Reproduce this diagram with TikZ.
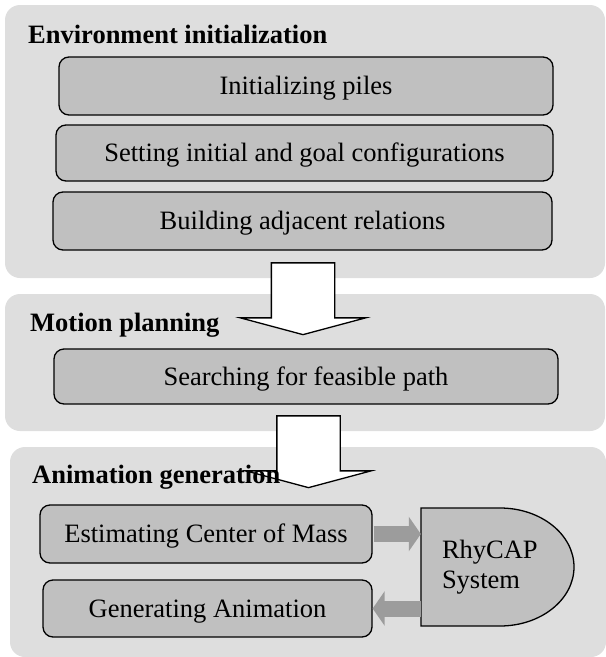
\documentclass[tikz,border=0pt]{standalone}
\usepackage{fontspec}
\setmainfont{Liberation Serif}
\usetikzlibrary{positioning, arrows.meta, shapes.arrows}

\definecolor{panelgray}{RGB}{222,222,222}
\definecolor{boxgray}{RGB}{192,192,192}
\definecolor{flowgray}{RGB}{156,156,156}

\tikzset{
  panel/.style={fill=panelgray, rounded corners=15pt, inner sep=0pt},
  phase/.style={font=\bfseries\fontsize{26.5pt}{30pt}\selectfont, inner sep=0pt, anchor=base west},
  task/.style={draw, line width=1.3pt, fill=boxgray, rounded corners=10pt, inner sep=0pt,
    text height=17pt, text depth=0pt, font=\fontsize{26.5pt}{30pt}\selectfont},
  flow/.style={draw, line width=1.3pt, fill=white, single arrow, shape border rotate=270,
    single arrow head extend=31pt, single arrow tip angle=150, minimum height=65pt,
    minimum width=124pt, inner sep=31pt},
  feed/.style={flowgray, line width=16pt, -{Triangle[length=12pt,width=34pt]}}
}

\begin{document}
\begin{tikzpicture}[x=1pt, y=-1pt]
\useasboundingbox (0,0) rectangle (606,657);

% the three phases
\node[panel, minimum width=600pt, minimum height=273pt] (envpanel) at (305,141.5) {};
\node[panel, minimum width=600pt, minimum height=137pt] (planpanel) at (305,362.5) {};
\node[panel, minimum width=596pt, minimum height=210pt] (animpanel) at (308,552) {};

% phase to phase
\node[flow] (toplan) at (303,294.5) {};
\node[flow] (toanim) at (308.5,447.5) {};

\node[phase] (envtitle) at (28,43) {Environment initialization};
\node[phase] (plantitle) at (30,331) {Motion planning};
\node[phase] (animtitle) at (32,483) {Animation generation};

% steps
\node[task, minimum width=494pt, minimum height=58pt] (piles) at (306,86) {Initializing piles};
\node[task, minimum width=497pt, minimum height=56pt] (config) at (304.5,153) {Setting initial and goal configurations};
\node[task, minimum width=499pt, minimum height=58pt] (adjacent) at (302.5,221) {Building adjacent relations};
\node[task, minimum width=504pt, minimum height=55pt] (search) at (306,376.5) {Searching for feasible path};
\node[task, minimum width=332pt, minimum height=58pt] (com) at (206,534) {Estimating Center of Mass};
\node[task, minimum width=329pt, minimum height=57pt] (anim) at (207.5,608.5) {Generating Animation};

% RhyCAP
\draw[line width=1.3pt, fill=boxgray] (421,508) -- (500,508)
  arc[start angle=90, end angle=-90, x radius=74pt, y radius=59pt] -- (421,626) -- cycle;
\node[font=\fontsize{26.5pt}{30pt}\selectfont, align=left, text width=111pt, inner xsep=21pt,
  inner ysep=0pt, minimum width=153pt, minimum height=118pt] (rhycap) at (497.5,567) {RhyCAP\\System};

\draw[feed, shorten <=1pt] (com.east) -- (com.east -| rhycap.west);
\draw[feed] (rhycap.west |- anim.east) -- (anim.east);

\end{tikzpicture}
\end{document}
